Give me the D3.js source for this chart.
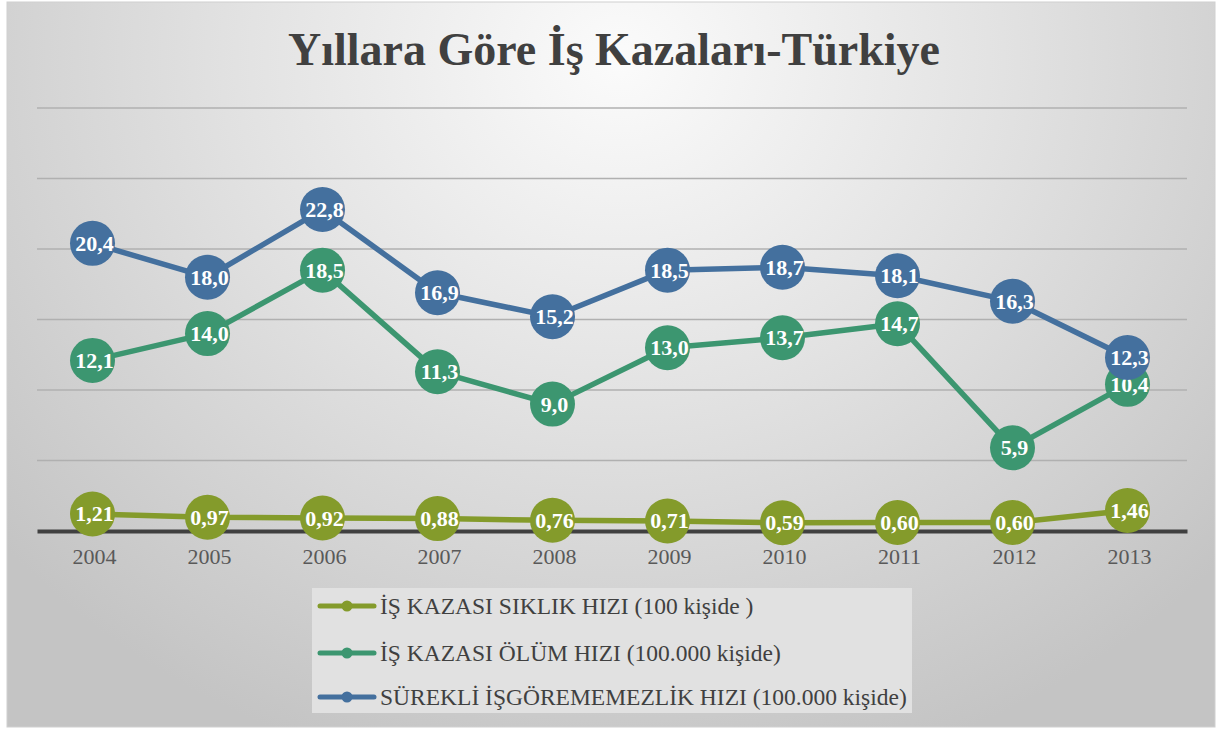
<!DOCTYPE html>
<html><head><meta charset="utf-8">
<script src="https://cdn.jsdelivr.net/npm/d3@7/dist/d3.min.js"></script>
<style>html,body{margin:0;padding:0;background:#fff;}svg{display:block;font-family:"Liberation Serif","DejaVu Serif",serif;}</style>
</head><body>
<svg id="chart" width="1217" height="729"></svg>
<script>
const years = ["2004","2005","2006","2007","2008","2009","2010","2011","2012","2013"];
const siklik = [1.21,0.97,0.92,0.88,0.76,0.71,0.59,0.60,0.60,1.46];
const olum = [12.1,14.0,18.5,11.3,9.0,13.0,13.7,14.7,5.9,10.4];
const surekli = [20.4,18.0,22.8,16.9,15.2,18.5,18.7,18.1,16.3,12.3];
const seriesNames = ["İŞ KAZASI SIKLIK HIZI (100 kişide )","İŞ KAZASI ÖLÜM HIZI (100.000 kişide)","SÜREKLİ İŞGÖREMEMEZLİK HIZI (100.000 kişide)"];
const seriesDecimals = [2,1,1];
const colors = ["#849b2b","#3c9670","#44709e"];
const yTicks = [0,5,10,15,20,25,30];
const title = "Yıllara Göre İş Kazaları-Türkiye";
const FONT = '"Liberation Serif","DejaVu Serif",serif';

const svg = d3.select("#chart");
const defs = svg.append("defs");
const rg = defs.append("radialGradient").attr("id","bg")
  .attr("gradientUnits","userSpaceOnUse").attr("cx",620).attr("cy",60).attr("r",820)
  .attr("gradientTransform","translate(620,60) scale(1,0.9) translate(-620,-60)");
rg.append("stop").attr("offset","0").attr("stop-color","#fbfbfb");
rg.append("stop").attr("offset","0.45").attr("stop-color","#e3e3e3");
rg.append("stop").attr("offset","1").attr("stop-color","#c4c4c4");

svg.append("rect").attr("x",7).attr("y",2).attr("width",1208).attr("height",725)
  .attr("fill","url(#bg)").attr("stroke","#d0d0d0").attr("stroke-width",1);

svg.append("text").attr("x",614).attr("y",65).attr("text-anchor","middle")
  .style("font-family",FONT).attr("font-weight","bold")
  .attr("font-size",46).attr("fill","#404040").text(title);

const x = d3.scaleBand().domain(years).range([37,1187]);
const y = d3.scaleLinear().domain([0,30]).range([531,108]);

svg.append("g").selectAll("line").data(yTicks.filter(d=>d>0)).join("line")
  .attr("x1",37).attr("x2",1187).attr("y1",d=>y(d)).attr("y2",d=>y(d))
  .attr("stroke","#b0b0b0").attr("stroke-width",1.3);

const xAxis = svg.append("g").attr("transform",`translate(0,${y(0)})`)
  .call(d3.axisBottom(x).tickSize(0).tickPadding(17));
xAxis.select(".domain").attr("stroke","#404040").attr("stroke-width",4);
xAxis.selectAll("text").style("font-family",FONT)
  .attr("font-size",22).attr("fill","#595959");

const allSeries = [siklik, olum, surekli];
const cx = d => x(d) + x.bandwidth()/2 - 2;
const fmt = (v,dec) => v.toFixed(dec).replace(".",",");

allSeries.forEach((vals,i) => {
  const data = years.map((yr,j)=>({yr, v: vals[j]}));
  const line = d3.line().x(d=>cx(d.yr)).y(d=>y(d.v));
  svg.append("path").datum(data).attr("d",line).attr("fill","none")
    .attr("stroke",colors[i]).attr("stroke-width",5.5).attr("stroke-linejoin","round");
});
allSeries.forEach((vals,i) => {
  const data = years.map((yr,j)=>({yr, v: vals[j]}));
  const g = svg.append("g");
  g.selectAll("circle").data(data).join("circle")
    .attr("cx",d=>cx(d.yr)).attr("cy",d=>y(d.v)).attr("r",22.5).attr("fill",colors[i]);
  g.selectAll("text").data(data).join("text")
    .attr("x",d=>cx(d.yr)+2).attr("y",d=>y(d.v)+7.5).attr("text-anchor","middle")
    .style("font-family",FONT).attr("font-weight","bold")
    .attr("font-size",22).attr("fill","#ffffff").text(d=>fmt(d.v,seriesDecimals[i]));
});

const lg = svg.append("g");
lg.append("rect").attr("x",312).attr("y",588).attr("width",600).attr("height",125).attr("fill","#e1e1e1");
const ly = [606,653,697];
seriesNames.forEach((name,i)=>{
  lg.append("line").attr("x1",320).attr("x2",374).attr("y1",ly[i]).attr("y2",ly[i])
    .attr("stroke",colors[i]).attr("stroke-width",5).attr("stroke-linecap","round");
  lg.append("circle").attr("cx",347).attr("cy",ly[i]).attr("r",5.5).attr("fill",colors[i]);
  lg.append("text").attr("x",380).attr("y",ly[i]+8)
    .style("font-family",FONT)
    .attr("font-size",23.5).attr("fill","#404040").text(name);
});
</script>
</body></html>
